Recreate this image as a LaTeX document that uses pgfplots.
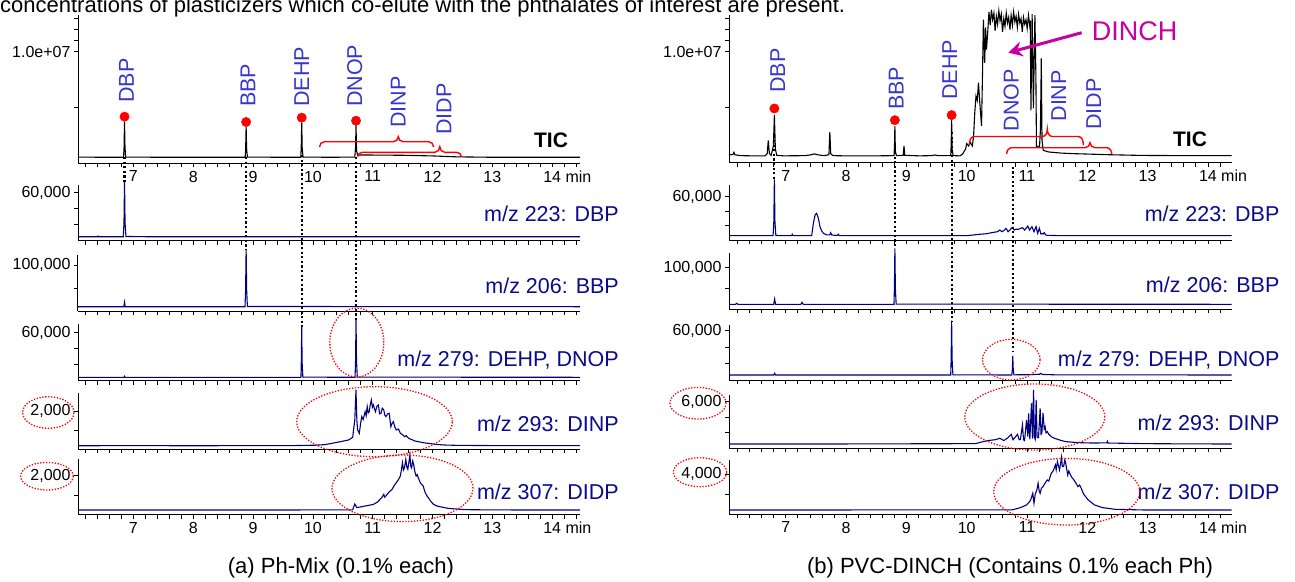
\documentclass[border=0pt]{standalone}
\usepackage{pgfplots}
\pgfplotsset{compat=1.18}
\usepackage{fontspec}
\setmainfont{Liberation Sans}
\usetikzlibrary{arrows.meta}
\definecolor{trace}{RGB}{0,0,128}
\definecolor{lbl}{RGB}{55,55,205}
\definecolor{mzc}{RGB}{10,10,140}
\definecolor{dinch}{RGB}{200,0,160}
\pgfplotsset{
 chrom/.style={scale only axis, clip=false,
   axis x line*=bottom, axis y line*=left,
   axis line style={black,line width=1pt},
   tick align=outside, major tick length=4pt, minor tick length=4pt,
   every tick/.style={black,line width=0.8pt},
   xtick={7,8,9,10,11,12,13,14}, minor xtick={6.2,6.4,6.6,6.8,7.2,7.4,7.6,7.8,8.2,8.4,8.6,8.8,9.2,9.4,9.6,9.8,10.2,10.4,10.6,10.8,11.2,11.4,11.6,11.8,12.2,12.4,12.6,12.8,13.2,13.4,13.6,13.8,14.2,14.4},
   xticklabels={},
   scaled y ticks=false,
   /pgf/number format/assume math mode=true,
   tick label style={font=\fontsize{16}{18}\selectfont},
   ymin=0, anchor=south west,
 },
 leftcol/.style={chrom, xmin=6.0733, xmax=14.465, width=502pt},
 rightcol/.style={chrom, xmin=6.058, xmax=14.395, width=502.7pt},
 xlab/.style={xticklabels={7,8,9,10,11,12,13,14\rlap{ min}}},
}
\tikzset{
 guide/.style={black, line width=2.2pt, dash pattern=on 2.2pt off 2.4pt},
 ell/.style={red, line width=1.3pt, dash pattern=on 1.3pt off 1.6pt},
 pk/.style={rotate=90, anchor=west, inner sep=0pt, text=lbl, font=\fontsize{21.5}{22}\selectfont},
 mz/.style={anchor=base east, inner sep=0pt, text=mzc, font=\fontsize{21.5}{22}\selectfont},
}
\newcommand{\cbrace}[6]{\draw[red,line width=1.4pt] (#1,-#4) to[out=90,in=180] (#1+5,-#5) -- (#3-5,-#5) to[out=0,in=-90] (#3,-#6) to[out=-90,in=180] (#3+5,-#5) -- (#2-5,-#5) to[out=0,in=90] (#2,-#4);}
\begin{document}
\begin{tikzpicture}[x=1pt,y=1pt]
\useasboundingbox (0,-581) rectangle (1295,0);
\node[anchor=base west, inner sep=0pt, font=\fontsize{22}{24}\selectfont] at (0,-12.5) {concentrations of plasticizers which co-elute with the phthalates of interest are present.};

% ================= LEFT COLUMN =================
\begin{axis}[leftcol, at={(78pt,-163.3pt)}, height=148.3pt, ymax=13.29, ytick={10}, yticklabels={1.0e+07}, minor ytick={5,11,12,13}, xlab]
\addplot[black, line width=1.1pt] coordinates {
(6.0733,0.56) (6.5,0.54) (6.835,0.54) (6.843,1.4) (6.851,3.73) (6.859,1.4) (6.87,0.56) (7.5,0.54) (8.2,0.54)
(8.868,0.54) (8.876,1.3) (8.884,3.28) (8.892,1.3) (8.905,0.56) (9.5,0.54)
(9.797,0.54) (9.805,1.4) (9.813,3.64) (9.821,1.4) (9.835,0.56) (10.3,0.54)
(10.70,0.56) (10.713,1.4) (10.721,3.43) (10.729,1.2) (10.745,0.74) (11.0,0.74) (11.5,0.72) (12.0,0.66) (12.4,0.58) (13.0,0.54) (14.465,0.54)};
\addplot[only marks, mark=*, mark size=4.7pt, red] coordinates {(6.851,4.18) (8.884,3.70) (9.813,4.09) (10.721,3.82)};
\coordinate (LDBP) at (axis cs:6.851,0);
\coordinate (LBBP) at (axis cs:8.884,0);
\coordinate (LDEHP) at (axis cs:9.813,0);
\coordinate (LDNOP) at (axis cs:10.721,0);
\end{axis}

\begin{axis}[leftcol, at={(78pt,-240.7pt)}, height=55.7pt, ymax=69600, ytick={60000}, yticklabels={60{,}000}, minor ytick={20000,40000}]
\addplot[trace, line width=1.1pt] coordinates {
(6.0733,5000) (6.40,5000) (6.41,5800) (6.42,5000) (6.83,5000) (6.842,22000) (6.851,73750) (6.86,22000) (6.875,5300) (7.2,5000) (14.465,5000)};
\end{axis}

\begin{axis}[leftcol, at={(78pt,-311pt)}, height=56pt, ymax=121700, ytick={100000}, yticklabels={100{,}000}, minor ytick={50000}]
\addplot[trace, line width=1.1pt] coordinates {
(6.0733,9350) (6.84,9350) (6.851,18900) (6.862,9350) (8.865,9350) (8.875,45000) (8.884,134100) (8.893,45000) (8.905,9800) (14.465,9350)};
\end{axis}

\begin{axis}[leftcol, at={(78pt,-380.7pt)}, height=56.4pt, ymax=70500, ytick={60000}, yticklabels={60{,}000}, minor ytick={20000,40000}]
\addplot[trace, line width=1.1pt] coordinates {
(6.0733,4250) (6.84,4250) (6.851,5600) (6.862,4250) (9.80,4250) (9.806,22000) (9.813,67500) (9.82,22000) (9.832,4500)
(10.705,4250) (10.713,25000) (10.721,75900) (10.729,25000) (10.742,4500) (14.465,4250)};
\end{axis}

\begin{axis}[leftcol, at={(78pt,-449pt)}, height=55.7pt, ymax=2930, ytick={2000}, yticklabels={2{,}000}, minor ytick={1000}]
\addplot[trace, line width=1.1pt] coordinates {
(6.0733,170) (7.0,180) (8.0,170) (9.0,180) (9.6,175) (10.04,200) (10.2,230) (10.318,298) (10.45,380) (10.595,474) (10.665,614)
(10.70,1526) (10.72,3105) (10.735,1500) (10.748,1000) (10.776,825) (10.80,1400) (10.817,1702) (10.84,1550) (10.873,1965)
(10.89,1750) (10.908,2228) (10.925,1900) (10.942,1965) (10.96,2350) (10.977,2579) (10.995,2200) (11.012,2316) (11.03,2100)
(11.046,1965) (11.07,2250) (11.095,2316) (11.115,1850) (11.137,1877) (11.16,2150) (11.185,2053) (11.2,1800) (11.22,1702)
(11.25,1850) (11.275,1877) (11.29,1500) (11.303,1175) (11.325,1350) (11.345,1439) (11.37,1150) (11.393,1000) (11.43,1050)
(11.462,825) (11.5,750) (11.532,649) (11.56,700) (11.601,561) (11.65,500) (11.705,421) (11.77,380) (11.844,333) (11.95,290)
(12.052,246) (12.2,210) (12.399,193) (13.0,180) (14.465,175)};
\end{axis}

\begin{axis}[leftcol, at={(78pt,-514.7pt)}, height=55.4pt, ymax=2840, ytick={2000}, yticklabels={2{,}000}, minor ytick={1000}, xlab]
\addplot[trace, line width=1.1pt] coordinates {
(6.0733,240) (9.0,240) (10.0,245) (10.665,250) (10.70,549) (10.734,366) (10.80,400) (10.873,446) (10.95,490) (11.012,531)
(11.08,650) (11.15,872) (11.185,1043) (11.2,900) (11.22,958) (11.27,1150) (11.324,1300) (11.36,1500) (11.393,1642) (11.43,1800)
(11.462,1983) (11.48,2300) (11.497,2667) (11.515,2300) (11.532,2411) (11.553,2838) (11.57,2450) (11.587,2325) (11.605,2700)
(11.622,3060) (11.635,2500) (11.65,2400) (11.668,2750) (11.684,2582) (11.705,2200) (11.726,1983) (11.745,2050) (11.761,1898)
(11.78,1750) (11.795,1642) (11.82,1550) (11.844,1471) (11.86,1300) (11.879,1129) (11.91,950) (11.948,787) (11.98,650)
(12.017,531) (12.07,450) (12.121,411) (12.26,326) (12.538,260) (13.0,245) (14.465,240)};
\end{axis}

% ================= RIGHT COLUMN =================
\begin{axis}[rightcol, at={(729pt,-162.5pt)}, height=147.5pt, ymax=13.32, ytick={10}, yticklabels={1.0e+07}, minor ytick={5,11,12,13}, xlab]
\addplot[black, line width=1.1pt] coordinates {
(6.058,0.75) (6.093,0.7) (6.124,0.72) (6.1395,0.92) (6.155,0.7) (6.247,0.62) (6.451,0.6) (6.656,0.6) (6.692,0.8) (6.709,2.0) (6.728,0.8)
(6.758,0.65) (6.794,1.5) (6.8105,4.28) (6.827,1.2) (6.850,0.65) (6.963,0.6) (7.321,0.62) (7.423,0.7) (7.474,0.78) (7.526,0.7) (7.628,0.62)
(7.715,0.7) (7.730,2.75) (7.745,0.8) (7.781,0.62) (7.986,0.6) (8.497,0.6) (8.794,0.62) (8.802,1.4) (8.809,3.28) (8.817,1.0) (8.835,0.62)
(8.947,0.65) (8.960,1.5) (8.973,0.65) (9.213,0.6) (9.418,0.62) (9.469,0.68) (9.520,0.62) (9.735,0.62) (9.742,1.5) (9.750,3.82)
(9.758,1.2) (9.776,0.62) (9.888,0.6) (9.929,0.75) (9.980,1.2) (10.001,1.7) (10.032,1.5) (10.062,1.8) (10.093,1.5) (10.113,2.3) (10.134,4.5)
(10.154,6.0) (10.175,5.6) (10.195,7.2) (10.216,5.5) (10.246,3.3) (10.262,8.0) (10.277,12.9) (10.298,9.0) (10.313,12.2) (10.328,10.2)
(10.349,11.8) (10.369,13.6) (10.390,12.4) (10.410,13.8) (10.430,12.9) (10.451,13.5) (10.471,11.9) (10.492,13.2) (10.512,12.5)
(10.533,13.7) (10.553,12.8) (10.574,13.4) (10.594,11.8) (10.615,13.0) (10.635,12.3) (10.656,13.5) (10.676,12.6) (10.696,13.1)
(10.717,12.0) (10.737,13.3) (10.758,12.4) (10.778,13.6) (10.799,12.7) (10.819,13.2) (10.840,12.2) (10.860,13.4) (10.881,12.6)
(10.901,13.0) (10.922,11.8) (10.942,13.1) (10.962,12.5) (10.983,12.9) (11.003,12.1) (11.024,13.3) (11.044,12.4) (11.054,12.8)
(11.065,4.7) (11.085,13.4) (11.106,4.9) (11.131,13.3) (11.147,8.0) (11.157,1.45) (11.208,1.45) (11.223,3.0) (11.237,9.4) (11.249,2.0)
(11.269,1.1) (11.361,0.95) (11.566,0.85) (11.771,0.8) (12.077,0.75) (12.384,0.7) (12.896,0.64) (13.612,0.62) (14.395,0.62)};
\addplot[only marks, mark=*, mark size=4.7pt, red] coordinates {(6.8105,4.88) (8.809,3.82) (9.750,4.28)};
\coordinate (RDBP) at (axis cs:6.8105,0);
\coordinate (RBBP) at (axis cs:8.809,0);
\coordinate (RDEHP) at (axis cs:9.750,0);
\coordinate (RDNOP) at (axis cs:10.766,0);
\end{axis}

\begin{axis}[rightcol, at={(729pt,-240pt)}, height=55pt, ymax=76200, ytick={60000}, yticklabels={60{,}000}, minor ytick={20000,40000}]
\addplot[trace, line width=1.1pt] coordinates {
(6.058,6000) (6.451,6000) (6.789,6000) (6.801,25000) (6.8105,84100) (6.820,25000) (6.835,6200) (7.096,6000) (7.106,7900) (7.116,6000)
(7.429,6000) (7.457,23100) (7.485,34650) (7.512,37000) (7.540,30000) (7.567,18500) (7.595,12500) (7.623,9300) (7.678,7000)
(7.730,7200) (7.744,10100) (7.761,7000) (7.853,6300) (7.871,8000) (7.884,6200) (7.986,6000) (9.827,6000) (10.003,6000) (10.209,7850)
(10.338,8800) (10.413,10160) (10.515,11550) (10.549,13860) (10.584,11550) (10.615,13000) (10.651,16170) (10.686,11550) (10.717,14000)
(10.754,17560) (10.789,13860) (10.819,15000) (10.856,14780) (10.891,16000) (10.925,17090) (10.959,13860) (10.988,16500)
(11.014,19400) (11.041,13860) (11.060,16000) (11.082,18480) (11.116,11550) (11.150,18480) (11.177,9240) (11.205,16170)
(11.231,8320) (11.259,9000) (11.266,8320) (11.287,10160) (11.310,7000) (11.335,6470) (11.566,6000) (14.395,6000)};
\end{axis}

\begin{axis}[rightcol, at={(729pt,-309.3pt)}, height=56pt, ymax=134600, ytick={100000}, yticklabels={100{,}000}, minor ytick={50000}]
\addplot[trace, line width=1.1pt] coordinates {
(6.058,12000) (6.165,12000) (6.186,14400) (6.206,12000) (6.799,12000) (6.8145,24760) (6.830,12000) (7.249,12000) (7.270,16800) (7.290,12000)
(8.794,12000) (8.801,50000) (8.809,146600) (8.817,50000) (8.830,12500) (14.395,12000)};
\end{axis}

\begin{axis}[rightcol, at={(729pt,-380pt)}, height=55pt, ymax=66900, ytick={60000}, yticklabels={60{,}000}, minor ytick={20000,40000}]
\addplot[trace, line width=1.1pt] coordinates {
(6.058,6100) (6.799,6100) (6.8145,8150) (6.830,6100) (9.735,6100) (9.742,25000) (9.750,72200) (9.758,25000) (9.771,6300)
(10.748,6100) (10.756,12000) (10.764,29200) (10.772,12000) (10.783,6300) (11.054,6500) (11.208,7000) (11.228,8150) (11.249,6800)
(11.464,6300) (14.395,6100)};
\end{axis}

\begin{axis}[rightcol, at={(729pt,-448.3pt)}, height=53.3pt, ymax=6860, ytick={6000}, yticklabels={6{,}000}, minor ytick={2000,4000}]
\addplot[trace, line width=1.1pt] coordinates {
(6.058,554) (7.986,560) (10.140,600) (10.345,987) (10.482,1116) (10.549,1288) (10.618,1000) (10.686,1374) (10.740,1803) (10.768,1100)
(10.789,1288) (10.843,1803) (10.870,1100) (10.891,1160) (10.925,3006) (10.942,1100) (10.959,1000) (10.993,3650) (11.014,1500)
(11.027,4508) (11.047,1160) (11.075,5796) (11.090,1245) (11.109,7511) (11.121,1500) (11.136,1160) (11.152,6227) (11.167,1400)
(11.191,1374) (11.218,5152) (11.233,1800) (11.246,1932) (11.266,4508) (11.285,2500) (11.300,2795) (11.315,2000) (11.335,2151)
(11.361,1800) (11.402,1503) (11.453,1300) (11.505,1160) (11.566,1000) (11.642,859) (11.846,730) (12.077,680) (12.324,700) (12.333,900)
(12.343,680) (12.938,600) (13.612,570) (14.395,554)};
\end{axis}

\begin{axis}[rightcol, at={(729pt,-514.3pt)}, height=54.3pt, ymax=5390, ytick={4000}, yticklabels={4{,}000}, minor ytick={2000}, xlab]
\addplot[trace, line width=1.1pt] coordinates {
(6.058,427) (10.754,440) (10.891,662) (10.993,927) (11.034,1200) (11.061,1423) (11.095,2085) (11.116,1092) (11.136,2000) (11.164,2416)
(11.184,3078) (11.203,2300) (11.218,2085) (11.239,2600) (11.266,2747) (11.300,3100) (11.335,3409) (11.361,3300) (11.402,4071)
(11.433,4300) (11.471,4899) (11.484,4400) (11.505,5230) (11.539,4402) (11.556,5000) (11.573,5660) (11.586,4733) (11.607,4733)
(11.627,5400) (11.642,5064) (11.658,4500) (11.675,3905) (11.694,4300) (11.709,4071) (11.740,3700) (11.778,3409) (11.811,3100)
(11.846,2747) (11.873,2900) (11.900,2582) (11.924,2200) (11.949,1920) (12.016,1423) (12.119,927) (12.255,662) (12.461,496)
(12.938,430) (14.395,427)};
\end{axis}

% ================= ANNOTATIONS =================
\draw[guide] ([yshift=6.3pt]LDBP) -- ([yshift=-18.7pt]LDBP);
\draw[guide] ([yshift=6.3pt]LBBP) -- ([yshift=-86.2pt]LBBP);
\draw[guide] ([yshift=8.3pt]LDEHP) -- ([yshift=-163.2pt]LDEHP);
\draw[guide] ([yshift=6.3pt]LDNOP) -- ([yshift=-156.7pt]LDNOP);
\draw[guide] ([yshift=22.5pt]RDBP) -- ([yshift=-17pt]RDBP);
\draw[guide] ([yshift=10.5pt]RBBP) -- ([yshift=-85.8pt]RBBP);
\draw[guide] ([yshift=30.5pt]RDEHP) -- ([yshift=-158.5pt]RDEHP);
\draw[guide] ([yshift=-4.2pt]RDNOP) -- ([yshift=-188.5pt]RDNOP);

\node[pk] at (126.6,-103) {DBP};
\node[pk] at (248.1,-107) {BBP};
\node[pk] at (301.7,-107) {DEHP};
\node[pk] at (354.8,-107) {DNOP};
\node[pk] at (398.3,-128) {DINP};
\node[pk] at (444,-135) {DIDP};
\node[pk] at (777.6,-93) {DBP};
\node[pk] at (896.1,-110) {BBP};
\node[pk] at (949.6,-100) {DEHP};
\node[pk] at (1011.3,-131.7) {DNOP};
\node[pk] at (1058.6,-121.7) {DINP};
\node[pk] at (1093.6,-130) {DIDP};

\cbrace{319.5}{433.6}{398.3}{147}{141.7}{136.7}
\cbrace{357.7}{461.4}{439.8}{156.7}{152.3}{146.7}
\cbrace{969.3}{1083.3}{1047.3}{145}{136.5}{129.3}
\cbrace{1006.7}{1111.7}{1090}{154}{147.7}{142.7}

\node[font=\fontsize{21}{22}\selectfont\bfseries, inner sep=0pt] at (551,-140) {TIC};
\node[font=\fontsize{21}{22}\selectfont\bfseries, inner sep=0pt] at (1190,-139) {TIC};

\node[text=dinch, font=\fontsize{27}{28}\selectfont, inner sep=0pt] at (1134.6,-31) {DINCH};
\draw[dinch, line width=3pt, -{Stealth[length=14pt,width=15pt]}] (1081.7,-32.7) -- (1008.3,-52.7);

\node[mz] at (619,-221) {m/z 223: DBP};
\node[mz] at (619,-293.7) {m/z 206: BBP};
\node[mz] at (619,-366) {m/z 279: DEHP, DNOP};
\node[mz] at (619,-431.7) {m/z 293: DINP};
\node[mz] at (619,-499.4) {m/z 307: DIDP};
\node[mz] at (1279.6,-221) {m/z 223: DBP};
\node[mz] at (1279.6,-292.7) {m/z 206: BBP};
\node[mz] at (1279.6,-366.7) {m/z 279: DEHP, DNOP};
\node[mz] at (1279.6,-430) {m/z 293: DINP};
\node[mz] at (1279.6,-499.4) {m/z 307: DIDP};

\draw[ell] (356.8,-342.5) ellipse [x radius=27pt, y radius=34.5pt];
\draw[ell] (374.5,-421.7) ellipse [x radius=77.8pt, y radius=35pt];
\draw[ell] (402.5,-488.3) ellipse [x radius=70.5pt, y radius=33.3pt];
\draw[ell] (48.3,-412.5) ellipse [x radius=25.7pt, y radius=15.8pt];
\draw[ell] (47,-476.2) ellipse [x radius=26.3pt, y radius=13.8pt];
\draw[ell] (1011.3,-359.7) ellipse [x radius=28.8pt, y radius=20.3pt];
\draw[ell] (1034.8,-417) ellipse [x radius=70pt, y radius=33pt];
\draw[ell] (1066.7,-491.7) ellipse [x radius=73pt, y radius=33.3pt];
\draw[ell] (698,-403.2) ellipse [x radius=28pt, y radius=15.8pt];
\draw[ell] (700,-472.2) ellipse [x radius=26.7pt, y radius=14.5pt];

\node[font=\fontsize{22}{24}\selectfont, inner sep=0pt] at (341,-568) {(a) Ph-Mix (0.1\% each)};
\node[font=\fontsize{22}{24}\selectfont, inner sep=0pt] at (1010,-568) {(b) PVC-DINCH (Contains 0.1\% each Ph)};
\end{tikzpicture}
\end{document}
